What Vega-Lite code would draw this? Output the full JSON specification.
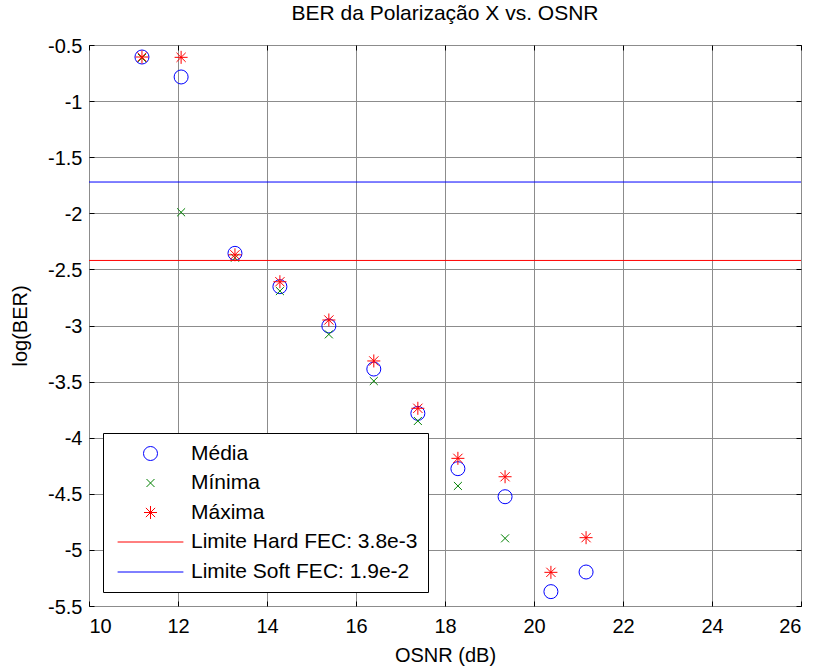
{
  "$schema": "https://vega.github.io/schema/vega-lite/v6.json",
  "width": 712,
  "height": 561,
  "autosize": {"type": "none"},
  "padding": {"left": 89, "top": 45, "right": 13, "bottom": 60},
  "background": "white",
  "title": {"text": "BER da Polarização X vs. OSNR", "font": "Liberation Sans", "fontSize": 21, "fontWeight": "normal", "color": "black", "offset": 12},
  "config": {
    "view": {"stroke": "black", "strokeWidth": 1},
    "font": "Liberation Sans",
    "axis": {
      "labelFont": "Liberation Sans", "labelFontSize": 20, "labelColor": "black",
      "titleFont": "Liberation Sans", "titleFontSize": 20, "titleFontWeight": "normal", "titleColor": "black",
      "domain": false, "tickColor": "black", "tickSize": -5, "tickWidth": 1,
      "gridColor": "#8c8c8c", "gridWidth": 1
    }
  },
  "datasets": {
    "pts": [
      {"osnr": 11.19, "ber": -0.607, "serie": "Média"},
      {"osnr": 12.07, "ber": -0.785, "serie": "Média"},
      {"osnr": 13.28, "ber": -2.357, "serie": "Média"},
      {"osnr": 14.29, "ber": -2.654, "serie": "Média"},
      {"osnr": 15.39, "ber": -3.004, "serie": "Média"},
      {"osnr": 16.40, "ber": -3.388, "serie": "Média"},
      {"osnr": 17.39, "ber": -3.783, "serie": "Média"},
      {"osnr": 18.29, "ber": -4.276, "serie": "Média"},
      {"osnr": 19.35, "ber": -4.526, "serie": "Média"},
      {"osnr": 20.38, "ber": -5.372, "serie": "Média"},
      {"osnr": 21.17, "ber": -5.197, "serie": "Média"},
      {"osnr": 11.19, "ber": -0.615, "serie": "Mínima"},
      {"osnr": 12.07, "ber": -1.991, "serie": "Mínima"},
      {"osnr": 13.28, "ber": -2.396, "serie": "Mínima"},
      {"osnr": 14.29, "ber": -2.693, "serie": "Mínima"},
      {"osnr": 15.39, "ber": -3.079, "serie": "Mínima"},
      {"osnr": 16.40, "ber": -3.495, "serie": "Mínima"},
      {"osnr": 17.39, "ber": -3.851, "serie": "Mínima"},
      {"osnr": 18.29, "ber": -4.430, "serie": "Mínima"},
      {"osnr": 19.35, "ber": -4.897, "serie": "Mínima"},
      {"osnr": 11.19, "ber": -0.607, "serie": "Máxima"},
      {"osnr": 12.07, "ber": -0.610, "serie": "Máxima"},
      {"osnr": 13.28, "ber": -2.370, "serie": "Máxima"},
      {"osnr": 14.29, "ber": -2.610, "serie": "Máxima"},
      {"osnr": 15.39, "ber": -2.951, "serie": "Máxima"},
      {"osnr": 16.40, "ber": -3.316, "serie": "Máxima"},
      {"osnr": 17.39, "ber": -3.738, "serie": "Máxima"},
      {"osnr": 18.29, "ber": -4.184, "serie": "Máxima"},
      {"osnr": 19.35, "ber": -4.348, "serie": "Máxima"},
      {"osnr": 20.38, "ber": -5.200, "serie": "Máxima"},
      {"osnr": 21.17, "ber": -4.891, "serie": "Máxima"}
    ],
    "lims": [
      {"ber": -2.4202, "serie": "Limite Hard FEC: 3.8e-3"},
      {"ber": -1.7212, "serie": "Limite Soft FEC: 1.9e-2"}
    ]
  },
  "resolve": {"axis": {"x": "independent", "y": "independent"}},
  "layer": [
    {
      "data": {"name": "pts"},
      "mark": {"type": "point", "filled": false, "size": 196, "strokeWidth": 1, "opacity": 1},
      "encoding": {
        "x": {"field": "osnr", "type": "quantitative", "scale": {"domain": [10, 26], "nice": false, "zero": false},
              "axis": {"orient": "bottom", "title": "OSNR (dB)", "values": [10, 12, 14, 16, 18, 20, 22, 24, 26], "grid": true, "labelPadding": 15, "titlePadding": 9, "labelExpr": "toString(datum.value)"}},
        "y": {"field": "ber", "type": "quantitative", "scale": {"domain": [-5.5, -0.5], "nice": false, "zero": false},
              "axis": {"orient": "left", "title": "log(BER)", "values": [-5.5, -5, -4.5, -4, -3.5, -3, -2.5, -2, -1.5, -1, -0.5], "grid": true, "labelPadding": 12, "titlePadding": 17, "labelOffset": 1, "labelExpr": "toString(datum.value)"}},
        "color": {"field": "serie", "type": "nominal",
                  "scale": {"domain": ["Média", "Mínima", "Máxima", "Limite Hard FEC: 3.8e-3", "Limite Soft FEC: 1.9e-2"],
                            "range": ["#0000ff", "#008000", "#ff0000", "#ff0000", "#0000ff"]},
                  "legend": {"title": null, "orient": "none", "legendX": 14, "legendY": 388, "strokeColor": "black", "fillColor": "white", "padding": 10, "labelLimit": 500,
                             "labelFont": "Liberation Sans", "labelFontSize": 21, "labelColor": "black", "symbolOffset": 27, "labelOffset": 30, "rowPadding": 7.5, "symbolStrokeWidth": 1, "symbolSize": 196, "cornerRadius": 0}},
        "shape": {"field": "serie", "type": "nominal",
                  "scale": {"domain": ["Média", "Mínima", "Máxima", "Limite Hard FEC: 3.8e-3", "Limite Soft FEC: 1.9e-2"],
                            "range": ["circle", "M-0.57,-0.57L0.57,0.57M-0.57,0.57L0.57,-0.57", "M-0.93,0L0.93,0M0,-0.93L0,0.93M-0.66,-0.66L0.66,0.66M-0.66,0.66L0.66,-0.66", "M-4.7,0L4.7,0", "M-4.7,0.0714L4.7,0.0714"]},
                  "legend": {"title": null, "orient": "none", "legendX": 14, "legendY": 388}}
      }
    },
    {
      "data": {"name": "pts"},
      "mark": {"type": "point", "opacity": 0},
      "encoding": {
        "x": {"field": "osnr", "type": "quantitative", "axis": {"orient": "top", "values": [10, 12, 14, 16, 18, 20, 22, 24, 26], "labels": false, "grid": false, "title": null}},
        "y": {"field": "ber", "type": "quantitative", "axis": {"orient": "right", "values": [-5.5, -5, -4.5, -4, -3.5, -3, -2.5, -2, -1.5, -1, -0.5], "labels": false, "grid": false, "title": null}}
      }
    },
    {
      "data": {"name": "lims"},
      "mark": {"type": "rule", "strokeWidth": 1},
      "encoding": {
        "y": {"field": "ber", "type": "quantitative", "axis": null},
        "color": {"field": "serie", "type": "nominal"}
      }
    }
  ]
}
